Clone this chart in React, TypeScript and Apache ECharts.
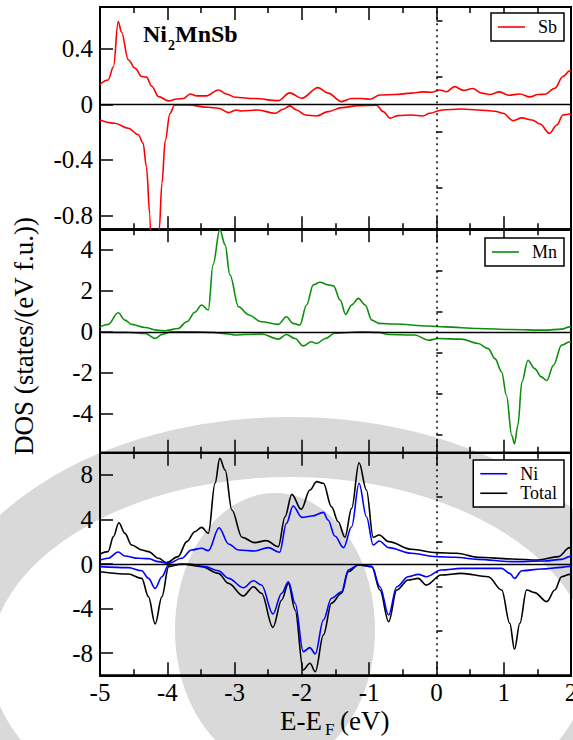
import React, { useEffect, useRef } from "react";
import * as echarts from "echarts";

const FONT = "Liberation Serif";

// Energy axis (eV relative to the Fermi level)
const xTicks = [-5, -4, -3, -2, -1, 0, 1, 2];

// Sb partial DOS, [E - E_F, DOS]
const sbUp: [number, number][] = [
  [-5, 0.144], [-4.88, 0.175], [-4.8, 0.27], [-4.73, 0.596], [-4.68, 0.52], [-4.58, 0.32], [-4.48, 0.26],
  [-4.38, 0.2], [-4.31, 0.195], [-4.23, 0.13], [-4.13, 0.055], [-3.98, 0.024], [-3.86, 0.038], [-3.76, 0.041],
  [-3.66, 0.074], [-3.56, 0.06], [-3.42, 0.06], [-3.24, 0.103], [-3.12, 0.074], [-2.99, 0.05], [-2.7, 0.041],
  [-2.35, 0.026], [-2.18, 0.082], [-2.0, 0.043], [-1.76, 0.12], [-1.61, 0.08], [-1.41, 0.019], [-1.26, 0.041],
  [-1.11, 0.041], [-0.99, 0.036], [-0.84, 0.067], [-0.62, 0.07], [-0.37, 0.08], [-0.2, 0.089], [-0.07, 0.086],
  [0.05, 0.103], [0.15, 0.09], [0.27, 0.127], [0.4, 0.1], [0.54, 0.113], [0.67, 0.08], [0.79, 0.07],
  [0.94, 0.089], [1.07, 0.065], [1.24, 0.074], [1.39, 0.053], [1.51, 0.07], [1.61, 0.072], [1.76, 0.115],
  [1.88, 0.2], [1.98, 0.24], [2, 0.24],
];
const sbDown: [number, number][] = [
  [-5, -0.113], [-4.78, -0.137], [-4.58, -0.173], [-4.43, -0.22], [-4.36, -0.28], [-4.31, -0.45], [-4.26, -0.79],
  [-4.22, -1.5], [-4.18, -2.0], [-4.14, -1.5], [-4.12, -0.905], [-4.08, -0.57], [-4.03, -0.26], [-3.96, -0.065],
  [-3.89, -0.005], [-3.69, -0.005], [-3.39, -0.022], [-3.24, -0.029], [-3.09, -0.06], [-2.97, -0.041],
  [-2.9, -0.048], [-2.65, -0.041], [-2.4, -0.065], [-2.28, -0.036], [-2.18, -0.012], [-2.08, -0.041],
  [-1.95, -0.077], [-1.78, -0.084], [-1.61, -0.053], [-1.41, -0.024], [-1.16, -0.01], [-0.89, -0.007],
  [-0.79, -0.053], [-0.69, -0.1], [-0.57, -0.082], [-0.37, -0.077], [-0.2, -0.084], [-0.1, -0.065],
  [0.08, -0.041], [0.37, -0.034], [0.62, -0.041], [0.87, -0.05], [0.99, -0.065], [1.14, -0.118],
  [1.27, -0.098], [1.42, -0.113], [1.54, -0.142], [1.68, -0.21], [1.79, -0.149], [1.88, -0.077],
  [1.98, -0.07], [2, -0.07],
];

// Mn partial DOS
const mnUp: [number, number][] = [
  [-5, 0.24], [-4.88, 0.36], [-4.73, 0.93], [-4.63, 0.57], [-4.53, 0.36], [-4.33, 0.21], [-4.16, 0.08],
  [-4.03, 0.05], [-3.84, 0.16], [-3.71, 0.49], [-3.59, 0.95], [-3.49, 1.31], [-3.39, 1.06], [-3.32, 3.27],
  [-3.22, 4.98], [-3.14, 4.24], [-3.07, 2.78], [-2.94, 1.22], [-2.79, 0.82], [-2.6, 0.49], [-2.35, 0.36],
  [-2.23, 0.73], [-2.13, 0.41], [-2.03, 0.33], [-1.93, 1.31], [-1.83, 2.29], [-1.73, 2.42], [-1.61, 2.29],
  [-1.53, 2.24], [-1.43, 1.55], [-1.35, 0.85], [-1.26, 1.31], [-1.16, 1.63], [-1.06, 1.31], [-0.96, 0.57],
  [-0.86, 0.41], [-0.62, 0.38], [-0.12, 0.28], [0.13, 0.24], [0.62, 0.16], [1.12, 0.11], [1.61, 0.08],
  [1.86, 0.13], [1.98, 0.24], [2, 0.24],
];
const mnDown: [number, number][] = [
  [-5, -0.02], [-4.58, -0.03], [-4.33, -0.08], [-4.18, -0.33], [-4.08, -0.13], [-3.93, 0], [-3.59, 0],
  [-3.34, -0.03], [-3.09, -0.11], [-2.99, -0.16], [-2.84, -0.13], [-2.6, -0.11], [-2.35, -0.36],
  [-2.23, -0.13], [-2.1, -0.33], [-1.98, -0.69], [-1.86, -0.49], [-1.78, -0.57], [-1.65, -0.33],
  [-1.51, -0.07], [-1.11, 0], [-0.86, -0.03], [-0.71, -0.13], [-0.32, -0.16], [-0.12, -0.41], [0.03, -0.33],
  [0.37, -0.36], [0.62, -0.57], [0.77, -0.82], [0.87, -1.31], [0.97, -1.96], [1.04, -3.1], [1.12, -5.06],
  [1.16, -5.47], [1.21, -4.57], [1.27, -2.45], [1.36, -1.39], [1.46, -1.8], [1.56, -2.2], [1.64, -2.38],
  [1.74, -1.63], [1.86, -0.65], [1.98, -0.49], [2, -0.49],
];

// Ni partial DOS and total DOS
const niUp: [number, number][] = [
  [-5, 0.36], [-4.88, 0.51], [-4.73, 1.08], [-4.63, 0.72], [-4.43, 0.51], [-4.28, 0.48], [-4.13, 0.21],
  [-3.98, 0.06], [-3.79, 0.51], [-3.64, 1.26], [-3.49, 1.41], [-3.39, 1.2], [-3.23, 3.26], [-3.09, 1.8],
  [-2.94, 1.26], [-2.7, 1.17], [-2.5, 1.47], [-2.33, 1.05], [-2.23, 3.65], [-2.13, 5.21], [-2.0, 4.19],
  [-1.85, 4.31], [-1.68, 4.64], [-1.61, 3.95], [-1.51, 2.51], [-1.38, 1.47], [-1.26, 3.35], [-1.15, 7.25],
  [-1.04, 4.25], [-0.94, 1.71], [-0.85, 2.07], [-0.71, 1.47], [-0.37, 0.96], [0, 0.66], [0.27, 0.6],
  [0.62, 0.42], [1.12, 0.21], [1.61, 0.27], [1.86, 0.42], [1.98, 0.66], [2, 0.66],
];
const niDown: [number, number][] = [
  [-5, -0.24], [-4.58, -0.33], [-4.38, -0.6], [-4.28, -1.29], [-4.18, -2.19], [-4.08, -1.14], [-3.98, -0.09],
  [-3.69, 0], [-3.44, -0.24], [-3.24, -0.6], [-3.09, -1.29], [-2.87, -2.13], [-2.72, -1.5], [-2.6, -1.89],
  [-2.43, -4.49], [-2.3, -2.63], [-2.2, -1.59], [-2.1, -3.53], [-1.98, -7.87], [-1.88, -7.51], [-1.8, -8.08],
  [-1.68, -5.03], [-1.56, -3.08], [-1.41, -2.49], [-1.31, -0.54], [-1.16, -0.09], [-0.96, -0.24],
  [-0.84, -2.04], [-0.71, -4.58], [-0.59, -2.04], [-0.42, -1.14], [-0.27, -0.93], [-0.15, -1.14],
  [0.07, -0.54], [0.37, -0.39], [0.97, -0.39], [1.09, -0.84], [1.16, -1.29], [1.27, -0.6], [1.56, -0.45],
  [1.86, -0.3], [1.98, -0.21], [2, -0.21],
];
const totalUp: [number, number][] = [
  [-5, 0.9], [-4.88, 1.11], [-4.8, 2.46], [-4.72, 3.71], [-4.63, 2.75], [-4.53, 1.71], [-4.38, 1.26],
  [-4.28, 1.11], [-4.13, 0.51], [-4.01, 0.12], [-3.84, 0.66], [-3.71, 2.01], [-3.59, 2.9], [-3.49, 3.29],
  [-3.39, 2.75], [-3.29, 7.25], [-3.22, 9.49], [-3.14, 8.44], [-3.04, 4.85], [-2.89, 2.4], [-2.7, 1.92],
  [-2.53, 2.1], [-2.35, 1.56], [-2.25, 4.25], [-2.15, 6.26], [-2.01, 4.91], [-1.88, 6.65], [-1.78, 7.4],
  [-1.68, 7.25], [-1.56, 5.15], [-1.46, 3.8], [-1.36, 2.4], [-1.26, 5.0], [-1.15, 9.1], [-1.04, 6.65],
  [-0.94, 2.4], [-0.85, 2.6], [-0.71, 2.01], [-0.37, 1.32], [0, 1.02], [0.3, 0.96], [0.62, 0.6],
  [1.12, 0.45], [1.51, 0.36], [1.81, 0.66], [1.98, 1.47], [2, 1.47],
];
const totalDown: [number, number][] = [
  [-5, -0.69], [-4.58, -0.9], [-4.38, -1.29], [-4.28, -2.93], [-4.18, -5.39], [-4.08, -2.93], [-3.98, -0.24],
  [-3.79, 0], [-3.49, -0.24], [-3.24, -0.84], [-3.09, -1.74], [-2.87, -2.87], [-2.72, -2.04], [-2.6, -2.63],
  [-2.43, -5.69], [-2.3, -3.23], [-2.2, -1.74], [-2.1, -4.13], [-1.98, -9.52], [-1.88, -8.92], [-1.8, -9.67],
  [-1.68, -6.38], [-1.56, -3.53], [-1.41, -2.63], [-1.31, -0.69], [-1.16, -0.09], [-0.96, -0.24],
  [-0.84, -2.34], [-0.71, -5.18], [-0.59, -2.34], [-0.42, -1.44], [-0.27, -1.29], [-0.15, -1.89],
  [0.07, -0.99], [0.37, -0.84], [0.77, -1.14], [0.97, -2.34], [1.09, -5.33], [1.16, -7.66], [1.24, -5.33],
  [1.34, -2.34], [1.46, -2.57], [1.64, -3.38], [1.76, -2.34], [1.86, -1.14], [1.98, -0.93], [2, -0.93],
];

// y-axis ranges and tick values of the three panels
const yRanges: [number, number][] = [[-0.9, 0.7], [-5.9, 5], [-10, 10]];
const yMajor: number[][] = [[-0.8, -0.4, 0, 0.4], [-4, -2, 0, 2, 4], [-8, -4, 0, 4, 8]];
const yMinor: number[][] = [[-0.6, -0.2, 0.2, 0.6], [-5, -3, -1, 1, 3], [-6, -2, 2, 6]];

const COLORS = { Sb: "#ff0000", Mn: "#0b8f0b", Ni: "#0000ff", Total: "#000000" };

const panels = [
  { top: 7, height: 222.3 },
  { top: 229.3, height: 223.4 },
  { top: 452.7, height: 222.6 },
];

function buildOption() {
  const grid = panels.map((p) => ({
    left: 100,
    width: 471,
    top: p.top,
    height: p.height,
    show: true,
    borderColor: "#000",
    borderWidth: 2,
    backgroundColor: "transparent",
    containLabel: false,
    outerBoundsMode: "none",
  }));

  const xAxis: any[] = [];
  const yAxis: any[] = [];
  panels.forEach((_, g) => {
    for (const pos of ["bottom", "top"]) {
      xAxis.push({
        gridIndex: g,
        type: "value",
        position: pos,
        min: xTicks[0],
        max: xTicks[xTicks.length - 1],
        interval: 1,
        axisLine: { show: true, onZero: false, lineStyle: { color: "#000", width: 2 } },
        axisTick: { show: true, inside: true, length: 13, lineStyle: { color: "#000", width: 1.5 } },
        minorTick: { show: true, splitNumber: 2, length: 6, lineStyle: { color: "#000", width: 1.5 } },
        splitLine: { show: false },
        minorSplitLine: { show: false },
        axisLabel: {
          show: g === 2 && pos === "bottom",
          margin: 5,
          color: "#000",
          fontFamily: FONT,
          fontSize: 25,
        },
      });
    }
    const [mn, mx] = yRanges[g];
    yAxis.push({
      gridIndex: g,
      type: "value",
      position: "left",
      min: mn,
      max: mx,
      axisLine: { show: true, onZero: false, lineStyle: { color: "#000", width: 2 } },
      axisTick: {
        show: true,
        inside: true,
        length: 13,
        customValues: yMajor[g],
        lineStyle: { color: "#000", width: 1.5 },
      },
      splitLine: { show: false },
      axisLabel: {
        show: true,
        customValues: yMajor[g],
        margin: 7,
        color: "#000",
        fontFamily: FONT,
        fontSize: 25,
      },
    });
    yAxis.push({
      gridIndex: g,
      type: "value",
      position: "left",
      offset: 0,
      min: mn,
      max: mx,
      axisLine: { show: false },
      axisTick: {
        show: true,
        inside: true,
        length: 6,
        customValues: yMinor[g],
        lineStyle: { color: "#000", width: 1.5 },
      },
      splitLine: { show: false },
      axisLabel: { show: false },
    });
  });

  const refLines = {
    symbol: "none",
    silent: true,
    label: { show: false },
    data: [
      { yAxis: 0, lineStyle: { color: "#000", width: 1.3, type: "solid" } },
      { xAxis: 0, lineStyle: { color: "#000", width: 1.5, type: [2, 4] } },
    ],
  };

  const line = (name: keyof typeof COLORS, data: [number, number][], g: number, withRef = false) => ({
    type: "line",
    name,
    data,
    xAxisIndex: g * 2,
    yAxisIndex: g * 2,
    showSymbol: false,
    symbol: "none",
    smooth: 0.35,
    smoothMonotone: "x",
    clip: true,
    lineStyle: { color: COLORS[name], width: 1.6 },
    itemStyle: { color: COLORS[name] },
    z: name === "Ni" ? 4 : 3,
    ...(withRef ? { markLine: refLines } : {}),
  });

  const series = [
    line("Sb", sbUp, 0, true),
    line("Sb", sbDown, 0),
    line("Mn", mnUp, 1, true),
    line("Mn", mnDown, 1),
    line("Total", totalUp, 2, true),
    line("Total", totalDown, 2),
    line("Ni", niUp, 2),
    line("Ni", niDown, 2),
  ];

  const legendBase = {
    orient: "vertical",
    right: 9,
    selectedMode: false,
    backgroundColor: "#fff",
    borderColor: "#000",
    borderWidth: 1.5,
    borderRadius: 0,
    padding: [4, 7, 4, 7],
    icon: "rect",
    itemWidth: 27,
    itemHeight: 1.6,
    itemGap: 0,
    textStyle: { color: "#000", fontFamily: FONT, fontSize: 18, lineHeight: 20, padding: [0, 0, 0, 8] },
  };
  const legend = [
    { ...legendBase, data: ["Sb"], top: 13 },
    { ...legendBase, data: ["Mn"], top: 238 },
    { ...legendBase, data: ["Ni", "Total"], top: 460, textStyle: { ...legendBase.textStyle, lineHeight: 19.5 } },
  ];

  const txt = (text: string, x: number, y: number, size: number, extra: any = {}) => ({
    type: "text",
    x,
    y,
    z: 100,
    style: {
      text,
      fill: "#000",
      fontFamily: FONT,
      fontSize: size,
      align: "left",
      verticalAlign: "middle",
      ...extra,
    },
  });

  const WM = "#d9d9d9";
  const graphic = [
    // faint emblem in the background: an eye outline and its iris
    {
      type: "ellipse",
      z: -10,
      silent: true,
      shape: { cx: 290, cy: 660, rx: 330, ry: 213 },
      style: { fill: "none", stroke: WM, lineWidth: 60 },
    },
    { type: "ellipse", z: -8, silent: true, shape: { cx: 275, cy: 630, rx: 100, ry: 137 }, style: { fill: WM } },
    // compound label
    txt("Ni", 143, 34, 24, { fontWeight: "bold" }),
    txt("2", 168, 45, 14, { fontWeight: "bold" }),
    txt("MnSb", 175, 34, 24, { fontWeight: "bold" }),
    // axis titles
    {
      type: "text",
      x: 24,
      y: 336,
      rotation: Math.PI / 2,
      z: 100,
      style: {
        text: "DOS (states/(eV f.u.))",
        fill: "#000",
        fontFamily: FONT,
        fontSize: 27,
        align: "center",
        verticalAlign: "middle",
      },
    },
    txt("E-E", 280, 721, 27),
    txt("F", 325, 729, 17),
    txt("(eV)", 340, 721, 27),
  ];

  return {
    animation: false,
    backgroundColor: "#fff",
    grid,
    xAxis,
    yAxis,
    legend,
    series,
    graphic,
  };
}

export default function App() {
  const ref = useRef<HTMLDivElement>(null);
  useEffect(() => {
    if (!ref.current) return;
    const chart = echarts.init(ref.current, null, { renderer: "svg" });
    chart.setOption(buildOption() as any);
    return () => chart.dispose();
  }, []);
  return <div ref={ref} style={{ position: "absolute", left: 0, top: 0, width: 573, height: 740 }} />;
}
